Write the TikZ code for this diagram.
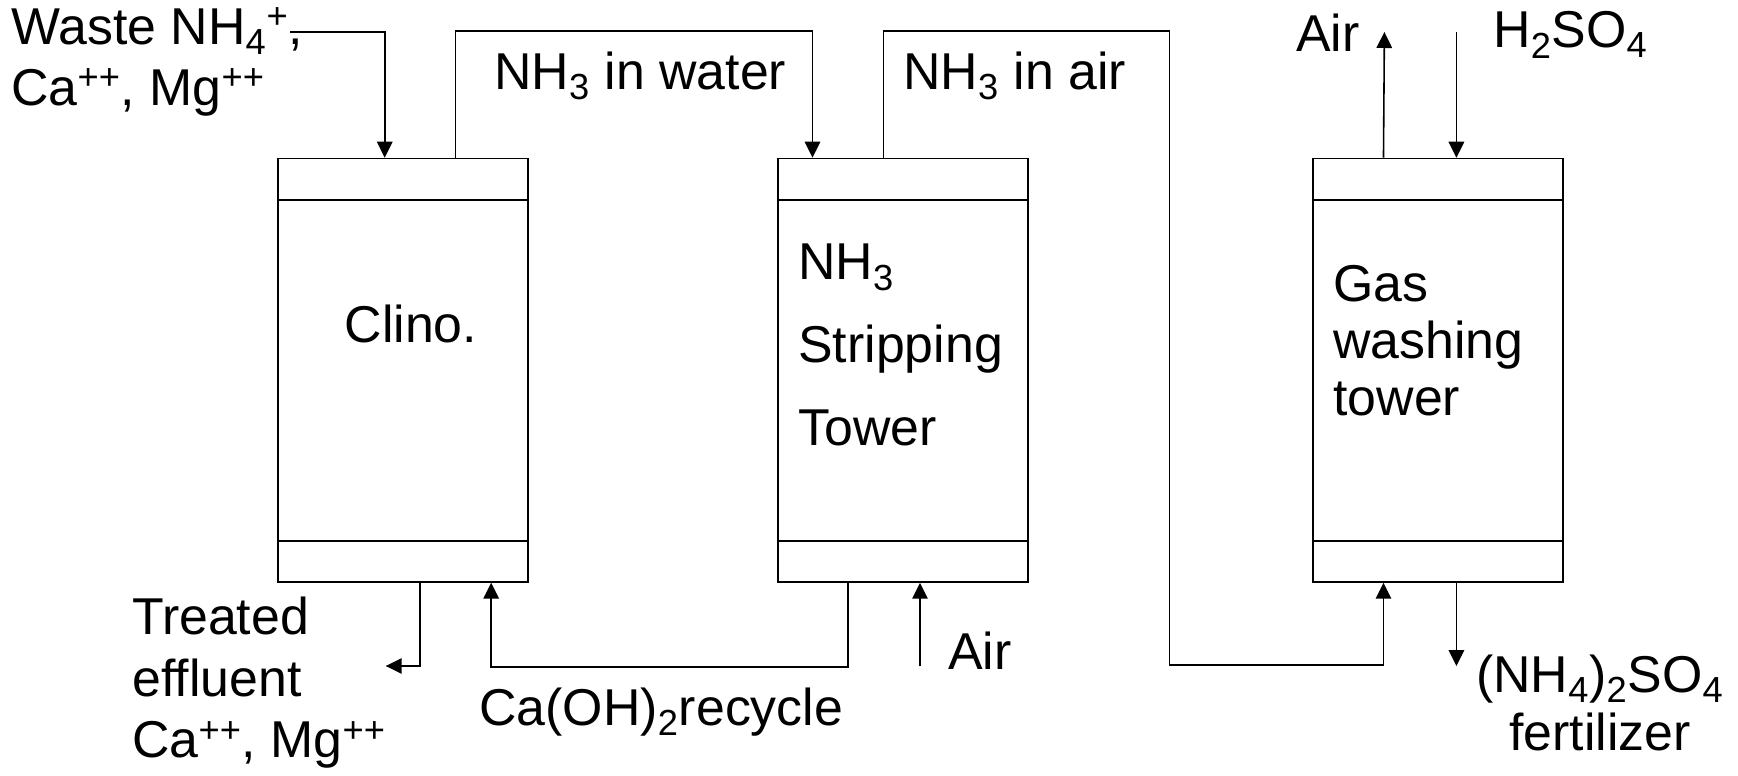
\documentclass[tikz,border=0pt]{standalone}
\usepackage{fontspec}
\setmainfont{Liberation Sans}
\usetikzlibrary{positioning,arrows.meta,calc}

\begin{document}
\begin{tikzpicture}[
  x=0.02cm, y=-0.02cm,
  every node/.style={font=\fontsize{29.5}{35}\selectfont},
  tower/.style={draw, line width=0.9pt, minimum width=5cm, minimum height=8.47cm, inner sep=0pt},
  lbl/.style={inner sep=0pt, align=left, anchor=west},
  arr/.style={-{Triangle[length=3.2mm,width=3.1mm]}, line width=0.9pt},
  ln/.style={line width=0.9pt}
]
\useasboundingbox (0,0) rectangle (1738,776);
% towers
\node[tower] (clino) at (403,370.25) {};
\node[tower] (strip) at (902.75,370.25) {};
\node[tower] (wash) at (1438.25,370.25) {};
\foreach \t in {clino,strip,wash} {
  \draw[ln] ($(\t.north west)+(0,42)$) -- ($(\t.north east)+(0,42)$);
  \draw[ln] ($(\t.south west)+(0,-42)$) -- ($(\t.south east)+(0,-42)$);
}
\node[inner sep=0pt] (clinolbl) at (411,324) {Clino.};
\node[lbl, font=\fontsize{29.5}{47}\selectfont] (striplbl) at (798,345) {NH\textsubscript{3}\\Stripping\\Tower};
\node[lbl, font=\fontsize{29.5}{32.4}\selectfont] (washlbl) at (1333,341) {Gas\\washing\\tower};

% stream labels
\node[lbl] (waste) at (11,62) {Waste NH\textsubscript{4}\textsuperscript{+},\\Ca\textsuperscript{++}, Mg\textsuperscript{++}};
\node[lbl] (water) at (494,76) {NH\textsubscript{3} in water};
\node[lbl] (inair) at (903,76) {NH\textsubscript{3} in air};
\node[lbl] (effl) at (132,683) {Treated\\effluent\\Ca\textsuperscript{++}, Mg\textsuperscript{++}};
\node[lbl] (recyc) at (479,712) {Ca(OH)\textsubscript{2}recycle};
\node[lbl] (airbot) at (948,651) {Air};
\node[inner sep=0pt, anchor=east] (airtop) at (1360,33) {Air};
\node[lbl] (acid) at (1493,35) {H\textsubscript{2}SO\textsubscript{4}};
\node[inner sep=0pt, align=center, font=\fontsize{29.5}{33}\selectfont] (fert) at (1600,703) {(NH\textsubscript{4})\textsubscript{2}SO\textsubscript{4}\\fertilizer};

% free ends
\coordinate (wastein) at (290,32);
\coordinate (effout) at (385.7,666);
\coordinate (airin) at (920,666);
\coordinate (airout) at (1384.4,32);
\coordinate (acidin) at (1456.4,32);
\coordinate (prodout) at (1456.4,666);

% streams
\draw[arr] (wastein) -| ([xshift=2.15cm]clino.north west);
\draw[arr] ([xshift=3.57cm]clino.north west) -- ++(0,-126.5) -| ([xshift=0.71cm]strip.north west);
\draw[arr] ([xshift=2.13cm]strip.north west) -- ++(0,-126.5) -- ++(286,0) -- ++(0,634) -| ([xshift=1.42cm]wash.south west);
\draw[arr] ([xshift=2.86cm]clino.south west) |- (effout);
\draw[arr] ([xshift=1.42cm]strip.south west) -- ++(0,84) -| ([xshift=4.28cm]clino.south west);
\draw[arr] (airin) -- (airin |- strip.south);
\draw[arr] ([xshift=1.42cm]wash.north west) -- (airout);
\draw[arr] (acidin) -- (acidin |- wash.north);
\draw[arr] (prodout |- wash.south) -- (prodout);
\end{tikzpicture}
\end{document}
